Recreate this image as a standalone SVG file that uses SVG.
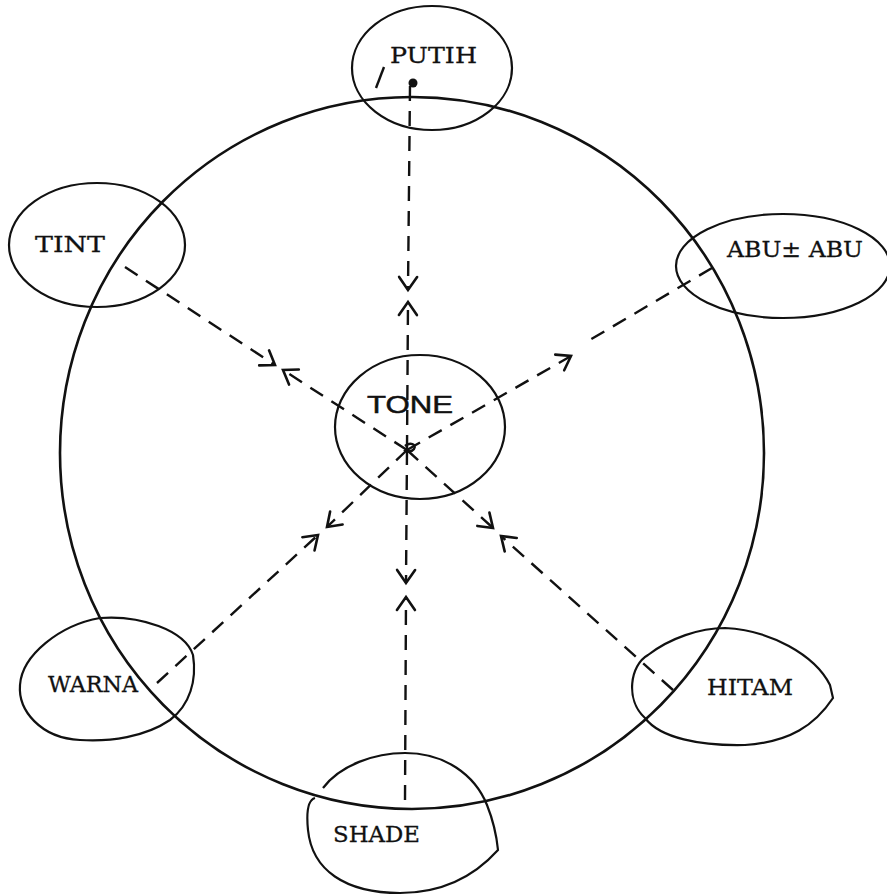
<svg xmlns="http://www.w3.org/2000/svg" width="887" height="895" viewBox="0 0 887 895">
<style>
.bg{fill:#fff}
.ring{fill:none;stroke:#111;stroke-width:2.6}
.node{fill:none;stroke:#111;stroke-width:2.2}
.lbl{font-family:"DejaVu Serif","Liberation Serif",serif;font-size:23px;fill:#111;stroke:#111;stroke-width:0.3}
.hand{font-family:"Liberation Sans",Arial,sans-serif;font-size:24px;fill:#111;stroke:#111;stroke-width:0.5}
.dash{fill:none;stroke:#111;stroke-width:2.4;stroke-dasharray:15 10}
.solid{fill:none;stroke:#111;stroke-width:2.4}
</style>
<defs>
<marker id="v" viewBox="-16 -16 32 32" refX="0" refY="0" markerWidth="32" markerHeight="32" markerUnits="userSpaceOnUse" orient="auto" overflow="visible">
<path d="M -13,-9 L 0,0 L -13,9" fill="none" stroke="#111" stroke-width="2.6" stroke-linecap="round"/>
</marker>
</defs>
<rect class="bg" x="0" y="0" width="887" height="895"/>

<g id="wheel">
<ellipse class="ring" cx="412" cy="453" rx="352" ry="356"/>
</g>

<g id="connectors">
<!-- PUTIH spoke -->
<line class="dash" x1="410" y1="86" x2="408" y2="290" marker-end="url(#v)"/>
<line class="dash" x1="407" y1="450" x2="408" y2="302" marker-end="url(#v)"/>
<!-- SHADE spoke -->
<line class="dash" x1="407" y1="450" x2="406" y2="583" marker-end="url(#v)"/>
<line class="dash" x1="405" y1="800" x2="406" y2="597" marker-end="url(#v)"/>
<!-- TINT spoke -->
<line class="dash" x1="125" y1="267" x2="275" y2="365" marker-end="url(#v)"/>
<line class="dash" x1="407" y1="450" x2="283" y2="370" marker-end="url(#v)"/>
<!-- HITAM spoke -->
<line class="dash" x1="407" y1="450" x2="493" y2="528" marker-end="url(#v)"/>
<line class="dash" x1="673" y1="690" x2="501" y2="536" marker-end="url(#v)"/>
<!-- WARNA spoke -->
<line class="dash" x1="157" y1="683" x2="318" y2="535" marker-end="url(#v)"/>
<line class="dash" x1="407" y1="450" x2="327" y2="527" marker-end="url(#v)"/>
<!-- ABU spoke -->
<line class="dash" x1="407" y1="450" x2="571" y2="356" marker-end="url(#v)"/>
<line class="dash" x1="712" y1="268" x2="583" y2="344"/>
<!-- PUTIH pointer -->
<line class="solid" x1="384" y1="67" x2="376" y2="88"/>
<circle cx="413" cy="83" r="4.5" fill="#111"/>
<!-- centre mark -->
<path class="solid" d="M 405,446 C 410,442 417,444 414,449 C 412,452 406,452 404,450" stroke-width="1.8"/>
</g>

<g id="putih">
<ellipse class="node" cx="432" cy="68" rx="80" ry="62"/>
<text class="lbl" x="390" y="63" textLength="87" lengthAdjust="spacingAndGlyphs">PUTIH</text>
</g>

<g id="tint">
<ellipse class="node" cx="97" cy="245" rx="88" ry="62"/>
<text class="lbl" x="35" y="252" textLength="70" lengthAdjust="spacingAndGlyphs">TINT</text>
</g>

<g id="abu">
<ellipse class="node" cx="783" cy="266" rx="107" ry="52"/>
<text class="lbl" x="727" y="257" textLength="136" lengthAdjust="spacingAndGlyphs">ABU± ABU</text>
</g>

<g id="tone">
<ellipse class="node" cx="420" cy="427" rx="85" ry="72"/>
<text class="hand" x="367" y="413" textLength="86" lengthAdjust="spacingAndGlyphs">TONE</text>
</g>

<g id="warna">
<path class="node" d="M100,618 C140,615 185,630 193,655 C197,680 190,705 170,720 C145,737 110,742 80,740 C40,738 18,710 20,685 C22,655 60,625 100,618 Z"/>
<text class="lbl" x="48" y="692" textLength="90" lengthAdjust="spacingAndGlyphs">WARNA</text>
</g>

<g id="hitam">
<path class="node" d="M645,718 C625,700 630,665 648,655 C670,638 700,628 725,628 C770,630 815,655 830,685 L833,698 C815,725 790,742 745,745 C700,746 660,738 645,718 Z"/>
<text class="lbl" x="707" y="695" textLength="86" lengthAdjust="spacingAndGlyphs">HITAM</text>
</g>

<g id="shade">
<path class="node" d="M323,788 C340,765 375,753 405,753 C445,753 475,775 487,805 C495,825 497,840 498,850 C480,870 450,893 400,893 C345,893 312,870 308,830 C306,810 308,800 315,798"/>
<text class="lbl" x="333" y="842" textLength="87" lengthAdjust="spacingAndGlyphs">SHADE</text>
</g>
</svg>
